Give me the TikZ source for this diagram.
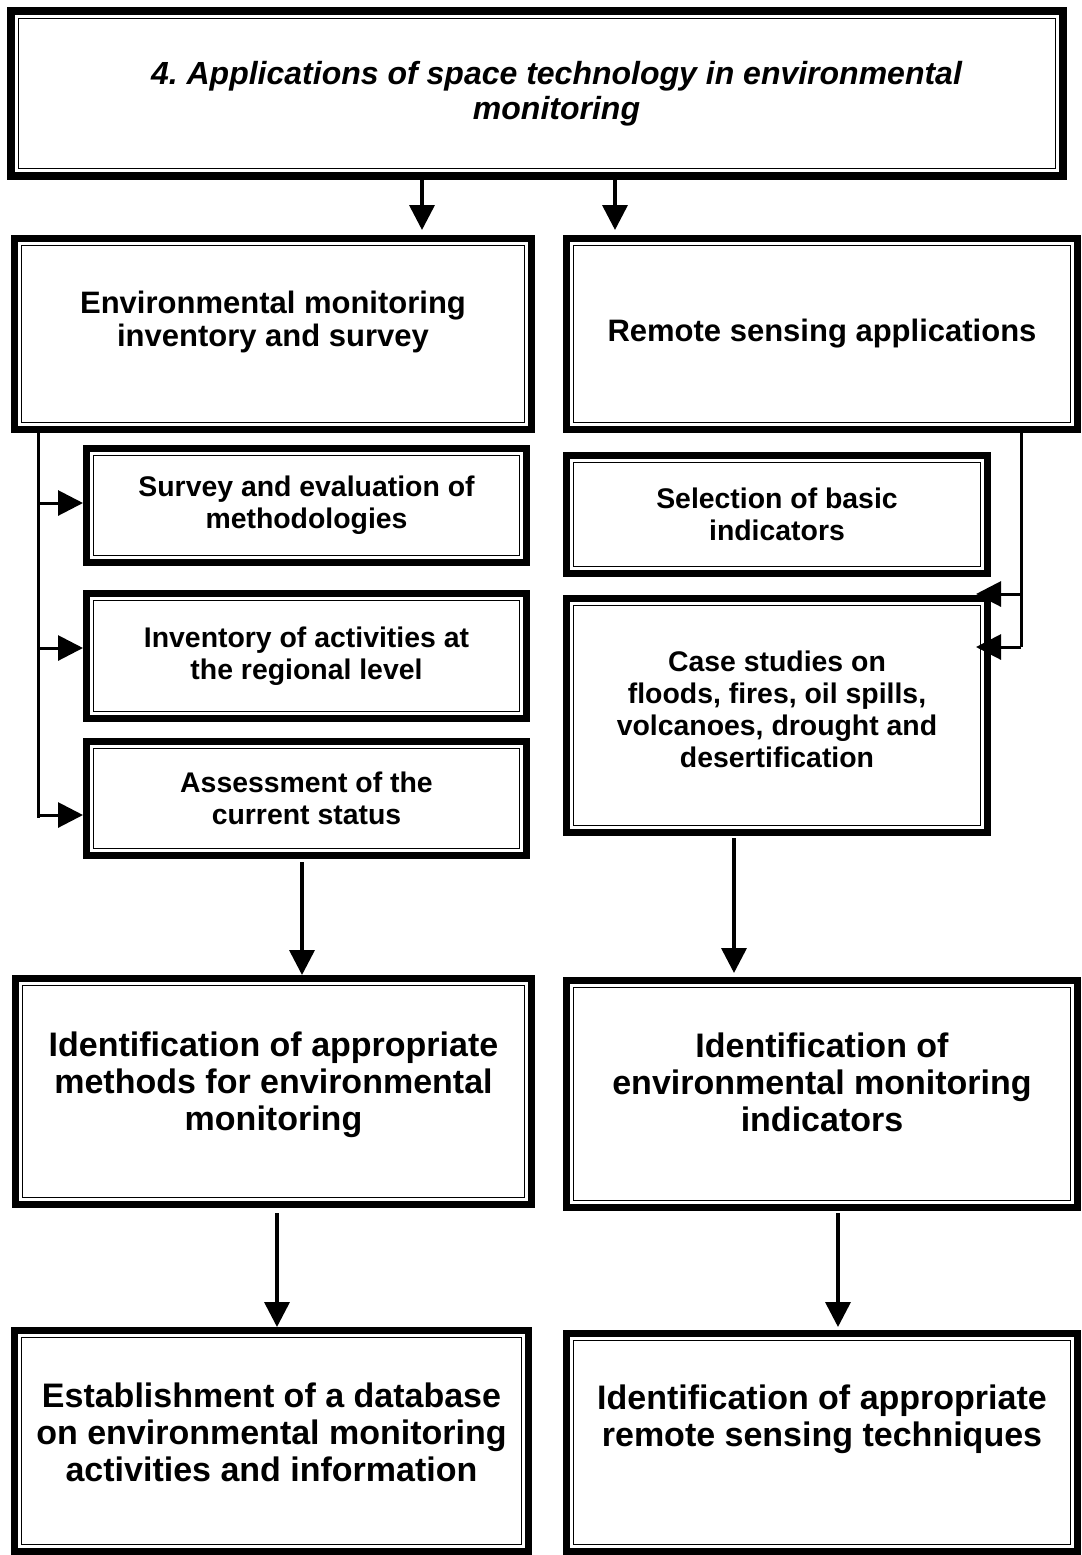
\documentclass[tikz,border=0pt]{standalone}
\usepackage{fontspec}
\setmainfont{Liberation Sans}
\usetikzlibrary{calc,arrows.meta}
\frenchspacing

\tikzset{
  frame/.style={draw, line width=3.5pt, inner sep=0pt, align=center,
    path picture={\draw[line width=0.6pt]
      ([shift={(3.6pt,-3.6pt)}]path picture bounding box.north west) rectangle
      ([shift={(-3.6pt,3.6pt)}]path picture bounding box.south east);}},
  titletext/.style={font=\fontsize{16pt}{17.5pt}\selectfont\bfseries\itshape},
  midtext/.style={font=\fontsize{15.5pt}{16.5pt}\selectfont\bfseries},
  smalltext/.style={font=\fontsize{14.2pt}{16pt}\selectfont\bfseries},
  bigtext/.style={font=\fontsize{17pt}{18.5pt}\selectfont\bfseries},
  arr/.style={line width=1.8pt, -{Triangle[width=12.5pt,length=12.5pt]}},
  bus/.style={line width=1.5pt}
}

\begin{document}
\begin{tikzpicture}[x=0.5pt, y=-0.5pt]

    \useasboundingbox (0,0) rectangle (1082,1555);

    % Title box
    \node[frame, titletext, line width=4pt, minimum width=526pt, minimum height=82.5pt] (title) at (537,93.5)
        {\hspace*{19.5pt}4. Applications of space technology in environmental\\\hspace*{19.5pt}monitoring};

    % Left column
    \node[frame, midtext, minimum width=258.5pt, minimum height=95.5pt, text depth=15pt] (envinv) at (273,334)
        {Environmental monitoring\\inventory and survey};
    \node[frame, smalltext, minimum width=220pt, minimum height=57pt] (survey) at (306.5,505.5)
        {Survey and evaluation of\\methodologies};
    \node[frame, smalltext, minimum width=220pt, minimum height=62.5pt] (inventory) at (306.5,656)
        {Inventory of activities at\\the regional level};
    \node[frame, smalltext, minimum width=220pt, minimum height=57pt] (assess) at (306.5,798.5)
        {Assessment of the\\current status};
    \node[frame, bigtext, minimum width=258pt, minimum height=113pt, text depth=10.5pt] (methods) at (273.5,1091.5)
        {Identification of appropriate\\methods for environmental\\monitoring};
    \node[frame, bigtext, minimum width=257pt, minimum height=110.5pt, text depth=9pt] (database) at (271.5,1441)
        {Establishment of a database\\on environmental monitoring\\activities and information};

    % Right column
    \node[frame, midtext, minimum width=255.5pt, minimum height=95.5pt] (rsapp) at (822,334)
        {Remote sensing applications};
    \node[frame, smalltext, minimum width=210.5pt, minimum height=59pt] (select) at (777,514.5)
        {Selection of basic\\indicators};
    \node[frame, smalltext, minimum width=210.5pt, minimum height=117pt, text depth=6pt] (cases) at (777,715.5)
        {Case studies on\\floods, fires, oil spills,\\volcanoes, drought and\\desertification};
    \node[frame, bigtext, minimum width=255.5pt, minimum height=113.5pt, text depth=12pt] (indicators) at (822,1094)
        {Identification of\\environmental monitoring\\indicators};
    \node[frame, bigtext, minimum width=255.5pt, minimum height=109pt, text depth=27pt] (techniques) at (822,1442.5)
        {Identification of appropriate\\remote sensing techniques};

    % Arrows from the title
    \path ($(title.south)+(-115,0)$) coordinate (t1)
          ($(title.south)+(78,0)$) coordinate (t2);
    \draw[arr, shorten >=2.5pt] (t1) -- (t1 |- envinv.north);
    \draw[arr, shorten >=2.5pt] (t2) -- (t2 |- rsapp.north);

    % Left bus
    \coordinate (lbus) at (38,818);
    \draw[bus] (envinv.south -| lbus) -- (lbus);
    \foreach \n/\y in {survey/503, inventory/648, assess/815} {
        \coordinate (b) at (38,\y);
        \draw[arr, line width=1.5pt] (b) -- (b -| \n.west);
    }

    % Right bus
    \coordinate (rbus) at (1021,647);
    \draw[bus] (rsapp.south -| rbus) -- (rbus);
    \foreach \y in {594, 647} {
        \coordinate (c) at (1021,\y);
        \draw[arr, line width=1.5pt, shorten >=-7.5pt] (c) -- (c -| cases.east);
    }

    % Downward arrows
    \path ($(assess.south)+(-4.5,0)$) coordinate (d1)
          ($(cases.south)+(-43,0)$) coordinate (d2)
          ($(methods.south)+(3.5,0)$) coordinate (d3)
          ($(indicators.south)+(16,0)$) coordinate (d4);
    \draw[arr, shorten <=1.5pt] (d1) -- (d1 |- methods.north);
    \draw[arr, shorten <=1pt, shorten >=2pt] (d2) -- (d2 |- indicators.north);
    \draw[arr, shorten <=2.5pt] (d3) -- (d3 |- database.north);
    \draw[arr, shorten <=1pt, shorten >=1.5pt] (d4) -- (d4 |- techniques.north);

\end{tikzpicture}
\end{document}
